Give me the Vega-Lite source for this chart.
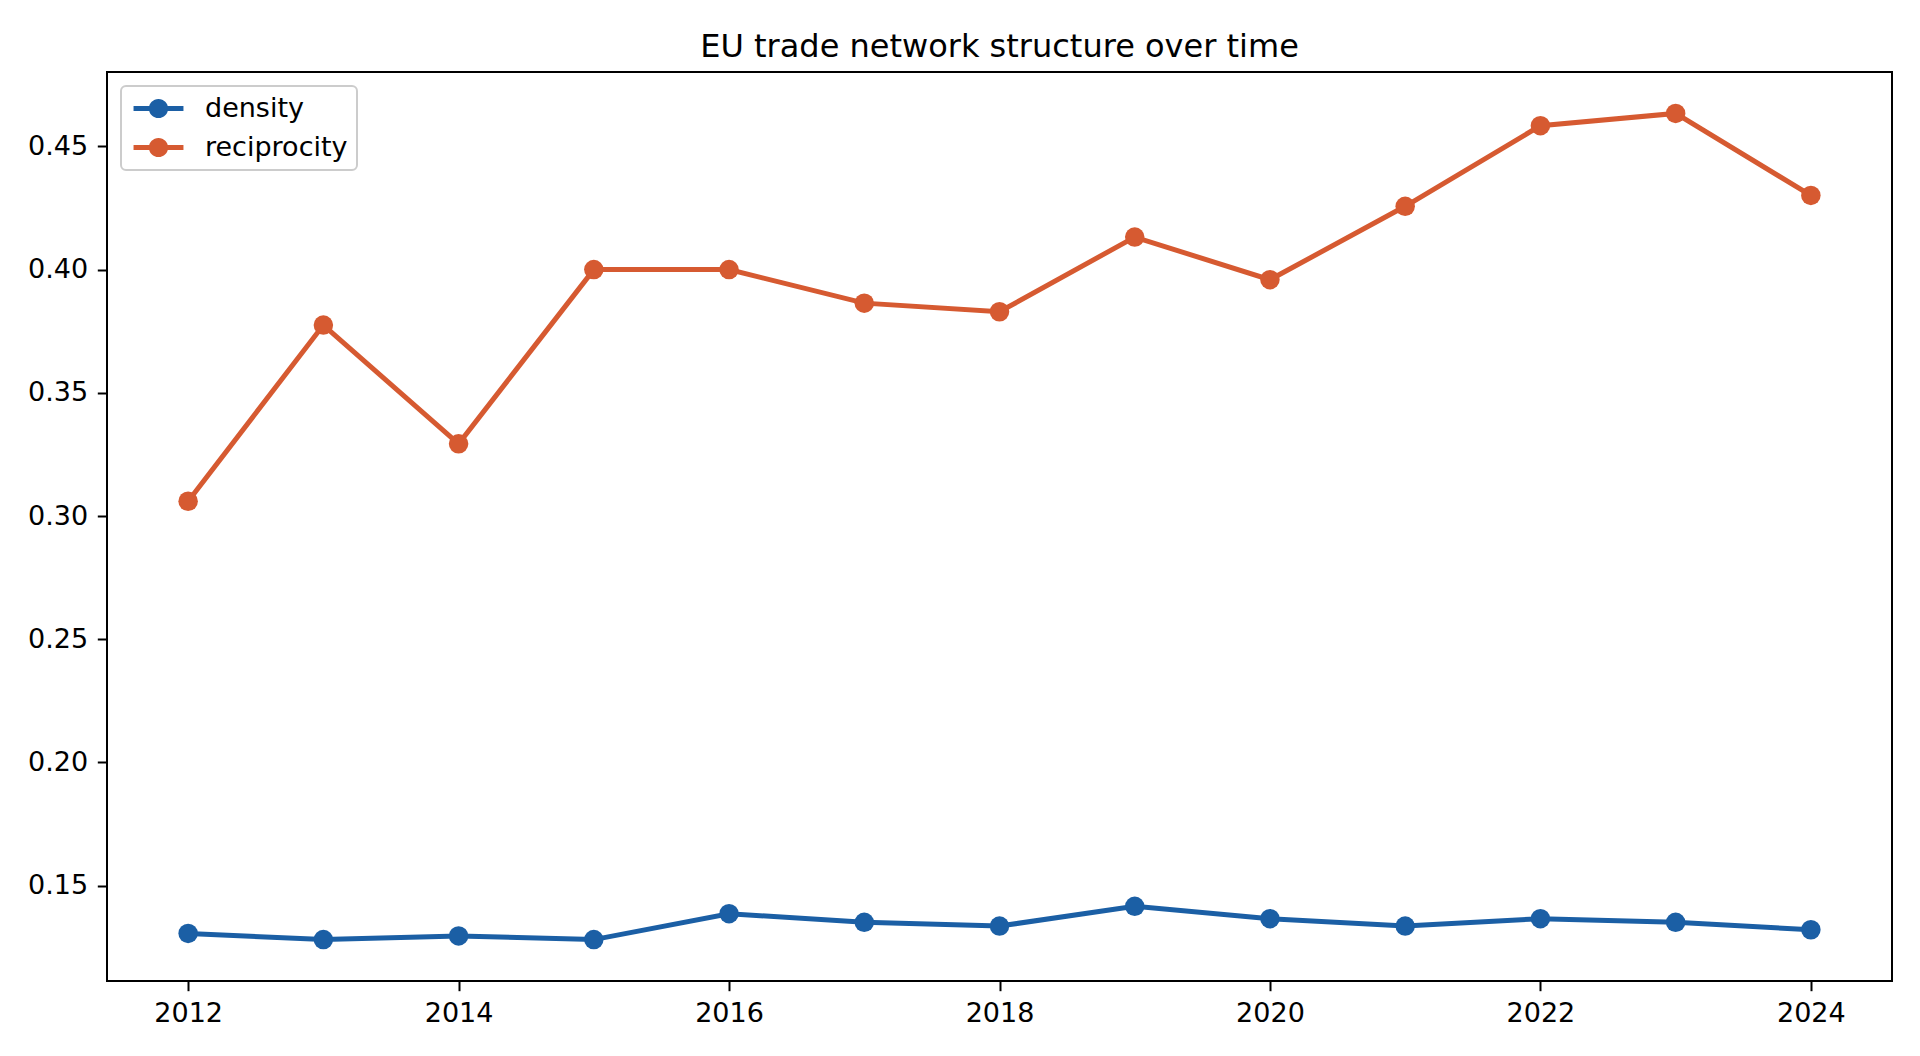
{
  "$schema": "https://vega.github.io/schema/vega-lite/v6.json",
  "autosize": {"type": "none"},
  "width": 1785,
  "height": 909,
  "padding": {"left": 107, "top": 72, "right": 28, "bottom": 75},
  "background": "white",
  "title": {
    "text": "EU trade network structure over time",
    "font": "DejaVu Sans",
    "fontSize": 32,
    "fontWeight": "normal",
    "color": "black",
    "anchor": "middle",
    "offset": 8
  },
  "data": {
    "values": [
      {"year": 2012, "metric": "density", "value": 0.1306},
      {"year": 2013, "metric": "density", "value": 0.1281},
      {"year": 2014, "metric": "density", "value": 0.1296},
      {"year": 2015, "metric": "density", "value": 0.1281},
      {"year": 2016, "metric": "density", "value": 0.1386},
      {"year": 2017, "metric": "density", "value": 0.1351},
      {"year": 2018, "metric": "density", "value": 0.1336},
      {"year": 2019, "metric": "density", "value": 0.1416},
      {"year": 2020, "metric": "density", "value": 0.1366},
      {"year": 2021, "metric": "density", "value": 0.1336},
      {"year": 2022, "metric": "density", "value": 0.1366},
      {"year": 2023, "metric": "density", "value": 0.1351},
      {"year": 2024, "metric": "density", "value": 0.1321},
      {"year": 2012, "metric": "reciprocity", "value": 0.306},
      {"year": 2013, "metric": "reciprocity", "value": 0.3775},
      {"year": 2014, "metric": "reciprocity", "value": 0.3293},
      {"year": 2015, "metric": "reciprocity", "value": 0.4},
      {"year": 2016, "metric": "reciprocity", "value": 0.4},
      {"year": 2017, "metric": "reciprocity", "value": 0.3864},
      {"year": 2018, "metric": "reciprocity", "value": 0.3829},
      {"year": 2019, "metric": "reciprocity", "value": 0.4132},
      {"year": 2020, "metric": "reciprocity", "value": 0.3959},
      {"year": 2021, "metric": "reciprocity", "value": 0.4257},
      {"year": 2022, "metric": "reciprocity", "value": 0.4584},
      {"year": 2023, "metric": "reciprocity", "value": 0.4634},
      {"year": 2024, "metric": "reciprocity", "value": 0.4301}
    ]
  },
  "encoding": {
    "x": {
      "field": "year",
      "type": "quantitative",
      "title": null,
      "scale": {"domain": [2011.4, 2024.6], "nice": false, "zero": false},
      "axis": {"values": [2012, 2014, 2016, 2018, 2020, 2022, 2024], "format": "d"}
    },
    "y": {
      "field": "value",
      "type": "quantitative",
      "title": null,
      "scale": {"domain": [0.1113, 0.4802], "nice": false, "zero": false},
      "axis": {"values": [0.15, 0.2, 0.25, 0.3, 0.35, 0.4, 0.45], "format": ".2f"}
    },
    "color": {
      "field": "metric",
      "type": "nominal",
      "title": null,
      "scale": {"domain": ["density", "reciprocity"], "range": ["#1b5fa5", "#d65a31"]},
      "legend": {
        "orient": "top-left",
        "offset": 14,
        "padding": 9,
        "fillColor": "white",
        "strokeColor": "#cccccc",
        "cornerRadius": 5,
        "symbolType": "M-1.92,-0.19L1.92,-0.19L1.92,0.19L-1.92,0.19Z M0.74,0 A0.74,0.74 0 1,1 -0.74,0 A0.74,0.74 0 1,1 0.74,0Z",
        "symbolSize": 676,
        "symbolStrokeWidth": 0,
        "symbolOffset": 15,
        "labelFont": "DejaVu Sans",
        "labelFontSize": 27,
        "labelColor": "black",
        "labelOffset": 33,
        "rowPadding": 11,
        "encode": {
          "legend": {
            "update": {"strokeWidth": {"value": 2}}
          },
          "symbols": {
            "update": {
              "fill": {"scale": "color", "field": "value"},
              "stroke": {"value": "transparent"},
              "opacity": {"value": 1}
            }
          }
        }
      }
    }
  },
  "layer": [
    {"mark": {"type": "line", "strokeWidth": 5}},
    {"mark": {"type": "point", "filled": true, "opacity": 1, "size": 380, "shape": "circle"}}
  ],
  "config": {
    "view": {"stroke": "black", "strokeWidth": 2},
    "axis": {
      "grid": false,
      "domain": false,
      "tickColor": "black",
      "tickWidth": 2,
      "tickSize": 9.7,
      "labelPadding": 9.7,
      "labelFont": "DejaVu Sans",
      "labelFontSize": 27,
      "labelColor": "black"
    }
  }
}
